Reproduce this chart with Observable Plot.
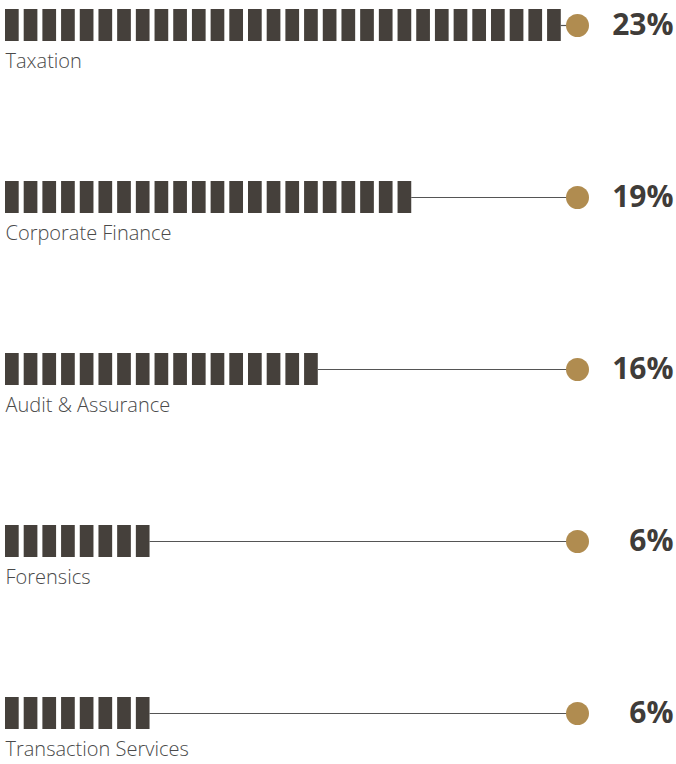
<!DOCTYPE html>
<html>
<head>
<meta charset="utf-8">
<script src="https://cdn.jsdelivr.net/npm/d3@7"></script>
<script src="https://cdn.jsdelivr.net/npm/@observablehq/plot@0.6"></script>
<style>
  html, body { margin: 0; padding: 0; background: #fff; }
  #chart svg { display: block; }
</style>
</head>
<body>
<div id="chart"></div>
<script>
const categories = ["Taxation", "Corporate Finance", "Audit & Assurance", "Forensics", "Transaction Services"];
const percents = [23, 19, 16, 6, 6];
const blockCounts = [30, 22, 17, 8, 8];
const percentLabels = ["23%", "19%", "16%", "6%", "6%"];

const rows = categories.map((c, k) => ({category: c, pct: percents[k], blocks: blockCounts[k], label: percentLabels[k]}));
const blocks = rows.flatMap(r => d3.range(r.blocks).map(i => ({category: r.category, i})));

const xMax = 30.6; // track length in block units (dot position)
const pI = 0.8145;

const chart = Plot.plot({
  width: 676,
  height: 764,
  marginLeft: 5,
  marginRight: 99,
  marginTop: 0,
  marginBottom: 0,
  style: {fontFamily: "'Open Sans', sans-serif", background: "#fff"},
  x: {domain: [0, xMax], axis: null},
  y: {type: "band", domain: categories, range: [-62.5, 800], paddingInner: pI, paddingOuter: pI / 2, axis: null},
  marks: [
    Plot.ruleY(rows, {y: "category", x1: "blocks", x2: xMax, insetLeft: -5, stroke: "#555", strokeWidth: 1.2}),
    Plot.barX(blocks, {y: "category", x1: "i", x2: d => d.i + 1, insetRight: 5, fill: "#45403b"}),
    Plot.dot(rows, {y: "category", x: () => xMax, r: 11.5, fill: "#b08c50", stroke: "none"}),
    Plot.text(rows, {y: "category", x: 0, text: "category", dy: 36, textAnchor: "start", fontSize: 20, fontWeight: 300, fill: "#4a4a4a"}),
    Plot.text(rows, {y: "category", frameAnchor: "right", dx: 96, text: "label", textAnchor: "end", lineAnchor: "middle", fontSize: 30, fontWeight: 700, fill: "#3f3c39"})
  ]
});
document.getElementById("chart").append(chart);
</script>
</body>
</html>
